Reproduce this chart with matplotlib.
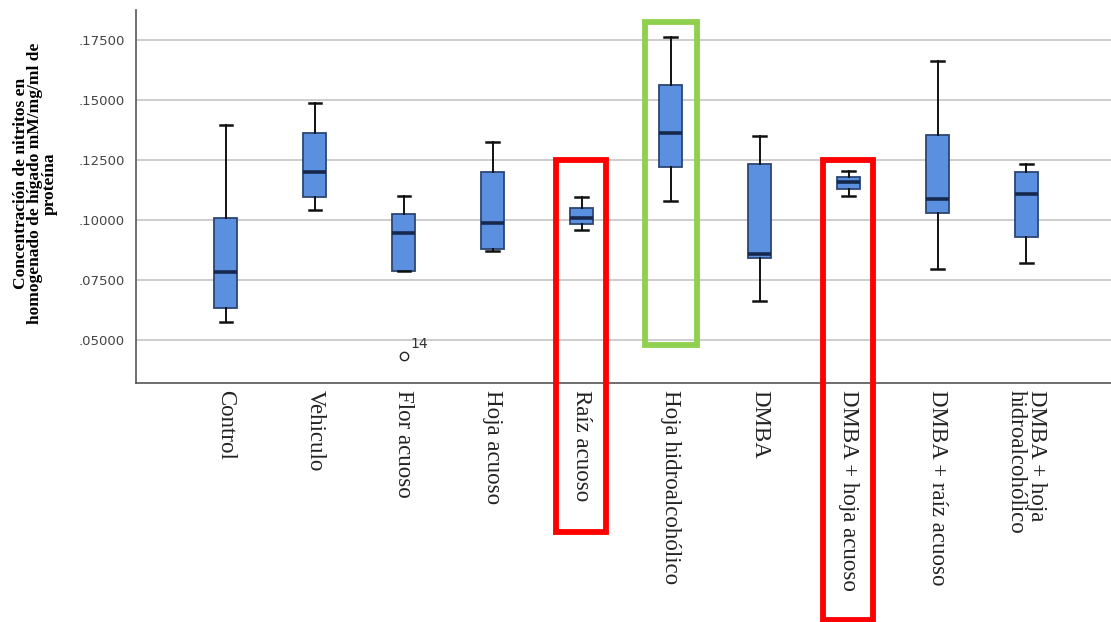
import matplotlib
matplotlib.use("Agg")
import matplotlib.pyplot as plt
from matplotlib.patches import Rectangle
from matplotlib.ticker import FuncFormatter

# Groups and their box-plot summaries (nitrite concentration)
groups = ["Control", "Vehiculo", "Flor acuoso", "Hoja acuoso", "Raíz acuoso",
          "Hoja hidroalcohólico", "DMBA", "DMBA + hoja acuoso",
          "DMBA + raíz acuoso", "DMBA + hoja\nhidroalcohólico"]
whisker_low = [0.0576, 0.1042, 0.0789, 0.0872, 0.0958, 0.1080, 0.0664, 0.1100, 0.0797, 0.0820]
q1 = [0.0635, 0.1097, 0.0789, 0.0878, 0.0983, 0.1222, 0.0843, 0.1129, 0.1028, 0.0928]
median = [0.0785, 0.1199, 0.0947, 0.0986, 0.1007, 0.1364, 0.0858, 0.1157, 0.1086, 0.1108]
q3 = [0.1007, 0.1361, 0.1024, 0.1199, 0.1049, 0.1563, 0.1233, 0.1181, 0.1354, 0.1201]
whisker_high = [0.1396, 0.1489, 0.1100, 0.1324, 0.1094, 0.1761, 0.1350, 0.1206, 0.1663, 0.1232]
outliers = [[], [], [0.0433], [], [], [], [], [], [], []]
outlier_ids = {2: "14"}

yticks = [0.05, 0.075, 0.10, 0.125, 0.15, 0.175]

# Highlighted groups
red_groups = [4, 7]
green_groups = [5]

fig = plt.figure(figsize=(11.11, 6.22), dpi=100)
ax = fig.add_axes([0.1224, 0.3842, 0.8776, 0.5998])

stats = []
for i in range(len(groups)):
    stats.append(dict(med=median[i], q1=q1[i], q3=q3[i],
                      whislo=whisker_low[i], whishi=whisker_high[i],
                      fliers=outliers[i], label=groups[i]))

positions = list(range(len(groups)))
ax.bxp(stats, positions=positions, widths=0.26, capwidths=0.14,
       patch_artist=True, showfliers=True,
       boxprops=dict(facecolor="#5b8fe0", edgecolor="#2c4673", linewidth=1.3),
       medianprops=dict(color="#17284d", linewidth=2.6),
       whiskerprops=dict(color="#111111", linewidth=1.4),
       capprops=dict(color="#111111", linewidth=1.8),
       flierprops=dict(marker="o", markersize=6, markerfacecolor="none",
                       markeredgecolor="#222222", markeredgewidth=1.0),
       zorder=3)

for i, lab in outlier_ids.items():
    ax.annotate(lab, (positions[i], outliers[i][0]), xytext=(5, 6),
                textcoords="offset points", fontsize=10, color="#333333",
                family="DejaVu Sans")

ax.set_xlim(-1.01, 9.95)
ax.set_ylim(0.0321, 0.1875)

ax.set_yticks(yticks)
ax.yaxis.set_major_formatter(FuncFormatter(lambda v, p: f"{v:.5f}".lstrip("0")))
ax.tick_params(axis="y", length=0, pad=8, labelsize=9.5, labelcolor="#444444")
for t in ax.get_yticklabels():
    t.set_family("DejaVu Sans")
ax.grid(axis="y", color="#c9c9c9", linewidth=1.3, zorder=0)
ax.set_axisbelow(True)

ax.set_xticks(positions)
ax.set_xticklabels(groups, rotation=-90, ha="center", va="top",
                   multialignment="left", family="Liberation Serif",
                   fontsize=16.5, color="#222222", linespacing=0.95)
ax.tick_params(axis="x", length=0, pad=5)

for side in ["top", "right"]:
    ax.spines[side].set_visible(False)
ax.spines["left"].set_color("#555555")
ax.spines["bottom"].set_color("#555555")
ax.spines["left"].set_linewidth(1.2)
ax.spines["bottom"].set_linewidth(1.2)

ax.set_ylabel("Concentración de nitritos en\nhomogenado de hígado mM/mg/ml de\nproteína",
              family="Liberation Serif", fontweight="bold", fontsize=12.5,
              linespacing=0.88)
ax.yaxis.set_label_coords(-0.080, 0.535)

# Highlight frames around selected groups
for i in red_groups:
    bottom = -0.03 if i == 4 else -0.0667
    ax.add_patch(Rectangle((positions[i] - 0.29, bottom), 0.56, 0.125 - bottom,
                           fill=False, edgecolor="#ff0000", linewidth=4.2,
                           clip_on=False, zorder=5))
for i in green_groups:
    ax.add_patch(Rectangle((positions[i] - 0.29, 0.0479), 0.59, 0.1825 - 0.0479,
                           fill=False, edgecolor="#8fd14f", linewidth=4.2,
                           clip_on=False, zorder=5))

fig.savefig("out.png", dpi=100)
